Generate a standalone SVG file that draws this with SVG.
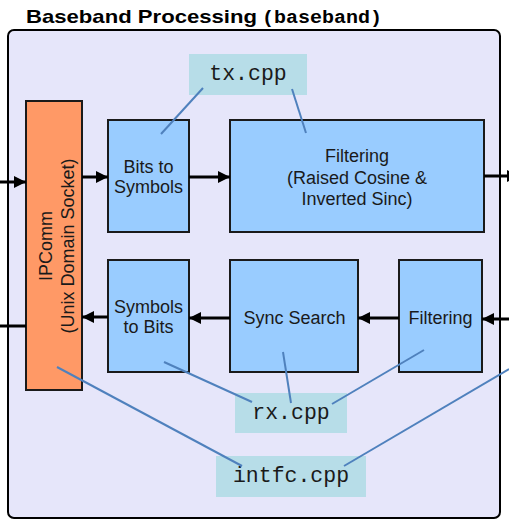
<svg xmlns="http://www.w3.org/2000/svg" width="509" height="520" viewBox="0 0 509 520">
<style>
.box{fill:#99CCFF;stroke:#1a1a1a;stroke-width:2}
.ipc{fill:#FF9966;stroke:#1a1a1a;stroke-width:2}
.file{fill:#B7DDE8;stroke:none}
.lbl{font-family:"Liberation Sans",Arial,sans-serif;font-size:18px;fill:#1a1a1a;text-anchor:middle}
.mono{font-family:"Liberation Mono","Courier New",monospace;font-size:21.5px;fill:#1a1a1a;text-anchor:middle}
.arr{stroke:#000;stroke-width:3;fill:none}
.note{stroke:#4F81BD;stroke-width:2;fill:none}
</style>
<defs>
<marker id="ah" markerUnits="userSpaceOnUse" markerWidth="12" markerHeight="12" refX="12" refY="6" orient="auto">
<path d="M0,0 L12,6 L0,12 z" fill="#000"/>
</marker>
</defs>
<rect width="509" height="520" fill="#ffffff"/>
<g id="title">
<text x="26" y="23" font-family="'Liberation Sans',Arial,sans-serif" font-size="19" font-weight="bold" fill="#000" textLength="231" lengthAdjust="spacingAndGlyphs">Baseband Processing</text>
<text x="262" y="23" font-family="'Liberation Mono','Courier New',monospace" font-size="19" font-weight="bold" fill="#000" textLength="120" lengthAdjust="spacingAndGlyphs">(baseband)</text>
</g>
<g id="container">
<rect x="8" y="30" width="492" height="488" rx="6" fill="#E6E6FA" stroke="#000" stroke-width="2"/>
</g>
<g id="ipcomm">
<rect class="ipc" x="26" y="101" width="56" height="289"/>
<g transform="translate(0,246) rotate(-90)">
<text class="lbl" x="0" y="52">IPComm</text>
<text class="lbl" x="0" y="74">(Unix Domain Socket)</text>
</g>
</g>
<g id="bits-to-symbols">
<rect class="box" x="108" y="120" width="81" height="112"/>
<text class="lbl" x="148.5" y="173">Bits to</text>
<text class="lbl" x="148.5" y="193">Symbols</text>
</g>
<g id="tx-filtering">
<rect class="box" x="230" y="120" width="254" height="112"/>
<text class="lbl" x="357" y="162">Filtering</text>
<text class="lbl" x="357" y="183.5">(Raised Cosine &amp;</text>
<text class="lbl" x="357" y="205">Inverted Sinc)</text>
</g>
<g id="symbols-to-bits">
<rect class="box" x="108" y="260" width="81" height="112"/>
<text class="lbl" x="148.5" y="313">Symbols</text>
<text class="lbl" x="148.5" y="333">to Bits</text>
</g>
<g id="sync-search">
<rect class="box" x="230" y="260" width="128" height="112"/>
<text class="lbl" x="294.5" y="324">Sync Search</text>
</g>
<g id="rx-filtering">
<rect class="box" x="399" y="260" width="83" height="112"/>
<text class="lbl" x="440.5" y="324">Filtering</text>
</g>
<g id="tx-cpp">
<rect class="file" x="189" y="54" width="118" height="41"/>
<text class="mono" x="248" y="80">tx.cpp</text>
</g>
<g id="rx-cpp">
<rect class="file" x="235" y="393" width="112" height="40"/>
<text class="mono" x="291" y="419">rx.cpp</text>
</g>
<g id="intfc-cpp">
<rect class="file" x="216" y="456" width="150" height="41"/>
<text class="mono" x="291" y="482">intfc.cpp</text>
</g>
<g id="connectors">
<line class="arr" x1="0" y1="182" x2="26" y2="182" marker-end="url(#ah)"/>
<line class="arr" x1="82" y1="177" x2="108" y2="177" marker-end="url(#ah)"/>
<line class="arr" x1="189" y1="177" x2="230" y2="177" marker-end="url(#ah)"/>
<line class="arr" x1="484" y1="176" x2="519" y2="176" marker-end="url(#ah)"/>
<line class="arr" x1="509" y1="319" x2="482" y2="319" marker-end="url(#ah)"/>
<line class="arr" x1="399" y1="318" x2="358" y2="318" marker-end="url(#ah)"/>
<line class="arr" x1="230" y1="318" x2="189" y2="318" marker-end="url(#ah)"/>
<line class="arr" x1="108" y1="317" x2="82" y2="317" marker-end="url(#ah)"/>
<line class="arr" x1="26" y1="326" x2="0" y2="326"/>
<line class="note" x1="203" y1="88" x2="161" y2="134"/>
<line class="note" x1="292" y1="89" x2="306" y2="133"/>
<line class="note" x1="164" y1="362" x2="252" y2="402"/>
<line class="note" x1="283" y1="352" x2="291" y2="403"/>
<line class="note" x1="424" y1="350" x2="332" y2="404"/>
<line class="note" x1="57" y1="367" x2="242" y2="466"/>
<line class="note" x1="509" y1="369" x2="344" y2="466"/>
</g>
</svg>
